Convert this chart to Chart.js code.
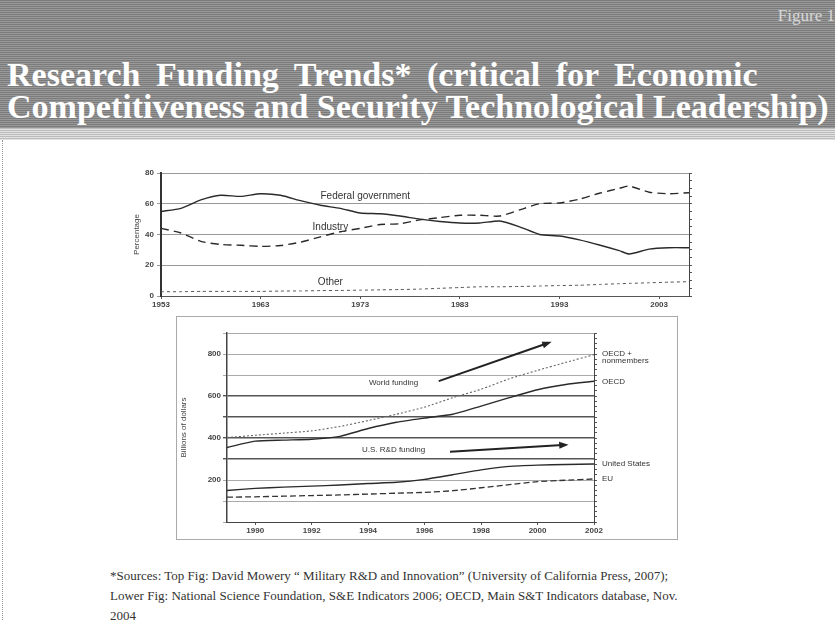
<!DOCTYPE html>
<html>
<head>
<meta charset="utf-8">
<script src="https://cdn.jsdelivr.net/npm/chart.js@4.4.0/dist/chart.umd.min.js"></script>
<style>
  html, body { margin: 0; padding: 0; background: #fff; }
  body { width: 835px; height: 620px; position: relative; overflow: hidden; }
  #head {
    position: absolute; left: 0; top: 0; width: 835px; height: 128px;
    background: repeating-linear-gradient(to bottom, #7b7b7b 0px, #7b7b7b 1px, #999 1px, #999 2px);
  }
  #fig {
    position: absolute; right: 0; top: 6px; font-family: "Liberation Serif", serif;
    font-size: 17px; color: #d8d8d8; white-space: nowrap;
  }
  #title {
    position: absolute; left: 7px; top: 59px; font-family: "Liberation Serif", serif;
    font-weight: bold; font-size: 34px; line-height: 32px; color: #fff; white-space: nowrap;
  }
  #title .l1 { word-spacing: 7px; }
  #title .l2 { word-spacing: 0px; }
  #band {
    position: absolute; left: 0; top: 128px; width: 835px; height: 12px;
    background: repeating-linear-gradient(to bottom, #bcbcbc 0px, #bcbcbc 1px, #e2e2e2 1px, #e2e2e2 2px);
  }
  #edge { position: absolute; left: 2px; top: 140px; height: 480px; border-left: 1px dotted #999; }
  #top { position: absolute; left: 120px; top: 160px; }
  #lowframe {
    position: absolute; left: 176px; top: 316px; width: 500px; height: 222px;
    border: 1px solid #aaa;
  }
  #low { position: absolute; left: 0; top: 0; }
  #notes {
    position: absolute; left: 110px; top: 566px; font-family: "Liberation Serif", serif;
    font-size: 13px; line-height: 20px; color: #333; white-space: nowrap;
  }
</style>
</head>
<body>
<div id="head">
  <div id="fig">Figure 1</div>
  <div id="title"><span class="l1">Research Funding Trends* (critical for Economic</span><br><span class="l2">Competitiveness and Security Technological Leadership)</span></div>
</div>
<div id="band"></div>
<div id="edge"></div>
<canvas id="top" width="580" height="156"></canvas>
<div id="lowframe"><canvas id="low" width="500" height="222"></canvas></div>
<div id="notes">*Sources: Top Fig: David Mowery “ Military R&amp;D and Innovation” (University of California Press, 2007);<br>Lower Fig: National Science Foundation, S&amp;E Indicators 2006; OECD, Main S&amp;T Indicators database, Nov.<br>2004</div>

<script>
// share of US R&D funding by source, percent
const topYears = [1953, 1955, 1957, 1959, 1961, 1963, 1965, 1967, 1969, 1971, 1973, 1975, 1977, 1979,
                  1981, 1983, 1985, 1987, 1989, 1991, 1993, 1995, 1997, 1999, 2000, 2002, 2004, 2006];
const federalShare = [55, 57, 62.5, 65.5, 64.8, 66.5, 65.5, 62, 59, 57, 54, 53.5, 52, 50,
                      48.5, 47.5, 47.5, 48.8, 45, 40, 39, 36.5, 33.2, 29.5, 27.3, 30.5, 31.4, 31.4];
const industryShare = [44, 41, 35.5, 33.5, 33, 32.3, 32.8, 35, 38.5, 41.8, 44, 46.5, 47, 49.5,
                       51, 52.5, 52.5, 52, 56, 60, 60.5, 63, 66.8, 70, 71.5, 67.5, 66.5, 67.2];
const otherShare = [2.8, 2.8, 3, 3, 3, 3, 3.2, 3.3, 3.5, 3.6, 3.8, 4, 4.2, 4.5,
                    5, 5.5, 6, 6, 6.2, 6.5, 6.8, 7, 7.5, 8, 8.2, 8.6, 9, 9.3];
const topTicks = [1953, 1963, 1973, 1983, 1993, 2003];

// R&D spending, billions of dollars
const lowYears = [1989, 1990, 1991, 1992, 1993, 1994, 1995, 1996, 1997, 1998, 1999, 2000, 2001, 2002];
const oecdPlus = [402, 413, 423, 434, 455, 483, 513, 547, 592, 632, 682, 722, 760, 797];
const oecd = [355, 385, 390, 394, 408, 445, 475, 495, 513, 552, 592, 630, 655, 670];
const unitedStates = [150, 160, 166, 171, 176, 183, 189, 203, 225, 248, 265, 271, 274, 276];
const eu = [118, 120, 123, 126, 129, 133, 137, 141, 149, 163, 178, 192, 199, 205];
const lowTicks = [1990, 1992, 1994, 1996, 1998, 2000, 2002];

const ink = '#333';
const sans = '"Liberation Sans", Arial, sans-serif';

function pts(xs, ys) {
    return xs.map((x, i) => ({ x: x, y: ys[i] }));
}

function line(label, data, color, width, dash) {
    return {
        label: label, data: data, borderColor: color, borderWidth: width,
        borderDash: dash, pointRadius: 0, fill: false, tension: 0.2
    };
}

// text and arrows placed in data coordinates
const labelPlugin = {
    id: 'labels',
    afterDatasetsDraw(chart, args, opts) {
        const ctx = chart.ctx;
        const xs = chart.scales.x, ys = chart.scales.y;
        ctx.save();
        ctx.fillStyle = ink;
        ctx.font = opts.font;
        ctx.textBaseline = 'middle';
        (opts.texts || []).forEach(t => {
            ctx.textAlign = t.align || 'center';
            const px = t.right ? chart.chartArea.right + t.right : xs.getPixelForValue(t.x);
            ctx.fillText(t.text, px, ys.getPixelForValue(t.y) + (t.dy || 0));
        });
        (opts.arrows || []).forEach(a => {
            const x0 = xs.getPixelForValue(a.x0), y0 = ys.getPixelForValue(a.y0);
            const x1 = xs.getPixelForValue(a.x1), y1 = ys.getPixelForValue(a.y1);
            const ang = Math.atan2(y1 - y0, x1 - x0);
            ctx.strokeStyle = '#222';
            ctx.lineWidth = 2;
            ctx.beginPath();
            ctx.moveTo(x0, y0);
            ctx.lineTo(x1 - 6 * Math.cos(ang), y1 - 6 * Math.sin(ang));
            ctx.stroke();
            ctx.fillStyle = '#222';
            ctx.beginPath();
            ctx.moveTo(x1, y1);
            ctx.lineTo(x1 - 10 * Math.cos(ang - 0.35), y1 - 10 * Math.sin(ang - 0.35));
            ctx.lineTo(x1 - 10 * Math.cos(ang + 0.35), y1 - 10 * Math.sin(ang + 0.35));
            ctx.closePath();
            ctx.fill();
        });
        ctx.restore();
    }
};

new Chart(document.getElementById('top'), {
    type: 'line',
    data: {
        datasets: [
            line('Federal government', pts(topYears, federalShare), '#2a2a2a', 1.4, []),
            line('Industry', pts(topYears, industryShare), '#2a2a2a', 1.4, [8, 5]),
            line('Other', pts(topYears, otherShare), '#555', 1, [3, 3])
        ]
    },
    options: {
        responsive: false, animation: false,
        layout: { padding: { top: 13, right: 7, left: 12, bottom: 0 } },
        scales: {
            x: {
                type: 'linear', min: 1953, max: 2006,
                afterBuildTicks: s => { s.ticks = topTicks.map(v => ({ value: v })); },
                afterFit: s => { s.height = 20; },
                grid: { drawOnChartArea: false, tickLength: 3, color: '#555' },
                border: { color: '#555', width: 1 },
                ticks: { font: { family: sans, size: 8, weight: 'bold' }, color: '#444', padding: 1, maxRotation: 0,
                         callback: v => String(v) }
            },
            y: {
                min: 0, max: 80,
                afterFit: s => { s.width = 29; },
                grid: { color: '#999', tickLength: 4 },
                border: { color: '#333', width: 2 },
                ticks: { stepSize: 20, font: { family: sans, size: 8, weight: 'bold' }, color: '#444', padding: 3 },
                title: { display: true, text: 'Percentage', font: { family: sans, size: 8 }, color: '#444', padding: 0 }
            },
            y2: {
                position: 'right', min: 0, max: 80,
                afterFit: s => { s.width = 4; },
                grid: { drawOnChartArea: false, tickLength: 3, color: '#555' },
                border: { color: '#444', width: 1 },
                ticks: { stepSize: 5, display: false }
            }
        },
        plugins: {
            legend: { display: false },
            tooltip: { enabled: false },
            labels: {
                font: '10px ' + sans,
                texts: [
                    { text: 'Federal government', x: 1973.5, y: 65 },
                    { text: 'Industry', x: 1970, y: 45 },
                    { text: 'Other', x: 1970, y: 9 }
                ]
            }
        }
    },
    plugins: [labelPlugin]
});

new Chart(document.getElementById('low'), {
    type: 'line',
    data: {
        datasets: [
            line('OECD + nonmembers', pts(lowYears, oecdPlus), '#666', 1.1, [2, 2]),
            line('OECD', pts(lowYears, oecd), '#2a2a2a', 1.4, []),
            line('United States', pts(lowYears, unitedStates), '#2a2a2a', 1.4, []),
            line('EU', pts(lowYears, eu), '#333', 1.3, [6, 3])
        ]
    },
    options: {
        responsive: false, animation: false,
        layout: { padding: { top: 16, right: 79, left: 0, bottom: 0 } },
        scales: {
            x: {
                type: 'linear', min: 1989, max: 2002,
                afterBuildTicks: s => { s.ticks = lowTicks.map(v => ({ value: v })); },
                afterFit: s => { s.height = 17; },
                grid: { drawOnChartArea: false, tickLength: 3, color: '#555' },
                border: { color: '#444', width: 1 },
                ticks: { font: { family: sans, size: 8, weight: 'bold' }, color: '#444', padding: 1, maxRotation: 0,
                         callback: v => String(v) }
            },
            y: {
                min: 0, max: 900,
                afterFit: s => { s.width = 50; },
                grid: {
                    tickLength: 4,
                    color: c => (c.tick && c.tick.value >= 300 && c.tick.value <= 600) ? '#555' : '#aaa',
                    lineWidth: c => (c.tick && c.tick.value >= 300 && c.tick.value <= 600) ? 1.4 : 1
                },
                border: { color: '#444', width: 1.5 },
                ticks: {
                    stepSize: 100, font: { family: sans, size: 8, weight: 'bold' }, color: '#444', padding: 2,
                    callback: v => (v % 200 === 0 && v > 0 && v < 900) ? String(v) : ''
                },
                title: { display: true, text: 'Billions of dollars', font: { family: sans, size: 8 }, color: '#444', padding: 2 }
            },
            y2: {
                position: 'right', min: 0, max: 900,
                afterFit: s => { s.width = 4; },
                grid: { drawOnChartArea: false, tickLength: 3, color: '#555' },
                border: { color: '#444', width: 1 },
                ticks: { stepSize: 25, display: false }
            }
        },
        plugins: {
            legend: { display: false },
            tooltip: { enabled: false },
            labels: {
                font: '8px ' + sans,
                texts: [
                    { text: 'OECD +', right: 8, y: oecdPlus[oecdPlus.length - 1], dy: -1, align: 'left' },
                    { text: 'nonmembers', right: 8, y: oecdPlus[oecdPlus.length - 1], dy: 6, align: 'left' },
                    { text: 'OECD', right: 8, y: oecd[oecd.length - 1], align: 'left' },
                    { text: 'United States', right: 8, y: unitedStates[unitedStates.length - 1], align: 'left' },
                    { text: 'EU', right: 8, y: eu[eu.length - 1], align: 'left' },
                    { text: 'World funding', x: 1994.9, y: 661 },
                    { text: 'U.S. R&D funding', x: 1994.9, y: 344 }
                ],
                arrows: [
                    { x0: 1996.5, y0: 671, x1: 2000.5, y1: 858 },
                    { x0: 1996.9, y0: 334, x1: 2001.1, y1: 368 }
                ]
            }
        }
    },
    plugins: [labelPlugin]
});
</script>
</body>
</html>
